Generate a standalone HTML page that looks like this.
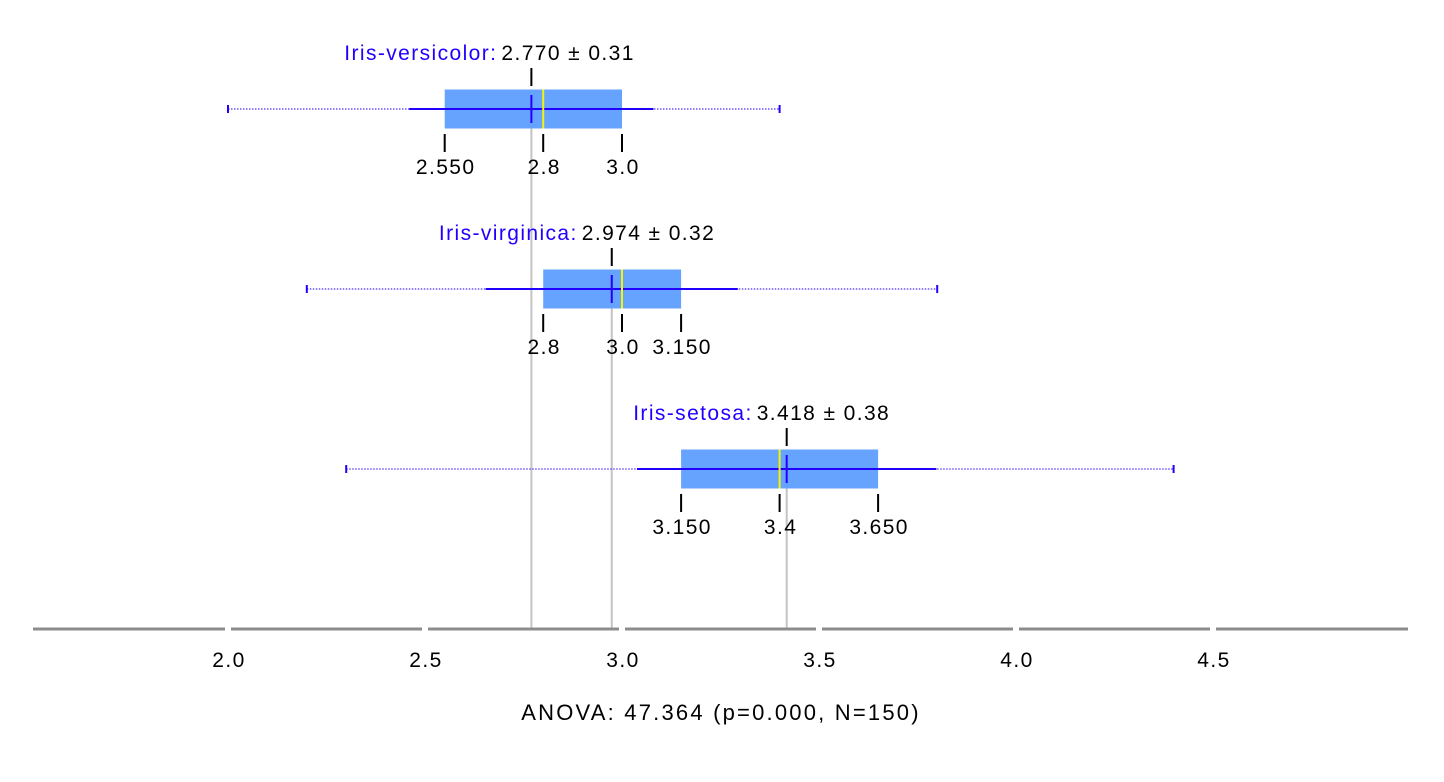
<!DOCTYPE html>
<html><head><meta charset="utf-8"><style>
html,body{margin:0;padding:0;background:#fff;}
svg{display:block;font-family:"Liberation Sans",Arial,sans-serif;}
text{letter-spacing:1.4px;}
</style></head><body>
<svg id="chart" width="1444" height="782"></svg>
<script>
const groups = ["Iris-versicolor","Iris-virginica","Iris-setosa"];
const mins = [2.0, 2.2, 2.3];
const maxs = [3.4, 3.8, 4.4];
const q1s = [2.55, 2.8, 3.15];
const medians = [2.8, 3.0, 3.4];
const q3s = [3.0, 3.15, 3.65];
const means = [2.770, 2.974, 3.418];
const sds = [0.31, 0.32, 0.38];
const q1Labels = ["2.550","2.8","3.150"];
const medLabels = ["2.8","3.0","3.4"];
const q3Labels = ["3.0","3.150","3.650"];
const ticks = [2.0, 2.5, 3.0, 3.5, 4.0, 4.5];
const tickLabels = ["2.0","2.5","3.0","3.5","4.0","4.5"];
const title = "ANOVA: 47.364 (p=0.000, N=150)";

const NS = "http://www.w3.org/2000/svg";
const svg = document.getElementById("chart");
const x = v => 228 + (v - 2) * 394;
const rowY = i => 109 + i * 180;
const axisY = 629;
function el(tag, attrs, parent){
  const e = document.createElementNS(NS, tag);
  for (const k in attrs) e.setAttribute(k, attrs[k]);
  (parent || svg).appendChild(e);
  return e;
}
function txt(s, attrs, parent){ const t = el("text", attrs, parent); t.textContent = s; return t; }

groups.forEach((g, i) => {
  const l = el("line", {x1:x(means[i]), x2:x(means[i]), y1:rowY(i), y2:axisY, stroke:"#c4c4c4", "stroke-width":2});
  
  
});

groups.forEach((g, i) => {
  const y = rowY(i);
  const grp = el("g", {});
  
  
  const w = el("line", {x1:x(mins[i]), x2:x(maxs[i]), y1:y, y2:y, stroke:"#2200ff", "stroke-width":1, "stroke-dasharray":"1.5,1.5"}, grp);
  
  
  [mins[i], maxs[i]].forEach(v => {
    const c = el("line", {x1:x(v), x2:x(v), y1:y-4, y2:y+4, stroke:"#2200ff", "stroke-width":2}, grp);
    
    
  });
  const b = el("rect", {x:x(q1s[i]), y:y-19.5, width:x(q3s[i])-x(q1s[i]), height:39, fill:"#66a3ff"}, grp);
  
  
  const sd = el("line", {x1:x(means[i]-sds[i]), x2:x(means[i]+sds[i]), y1:y, y2:y, stroke:"#2200ff", "stroke-width":2}, grp);
  
  
  const md = el("line", {x1:x(medians[i]), x2:x(medians[i]), y1:y-19.5, y2:y+19.5, stroke:"#f5f500", "stroke-width":2}, grp);
  
  
  const mn = el("line", {x1:x(means[i]), x2:x(means[i]), y1:y-14, y2:y+14, stroke:"#2200ff", "stroke-width":2}, grp);
  
  
  const tt = el("line", {x1:x(means[i]), x2:x(means[i]), y1:y-41, y2:y-23, stroke:"#000", "stroke-width":2}, grp);
  
  
  const nm = txt(g + ":", {x:x(means[i])-34, y:y-49, "text-anchor":"end", "font-size":21, fill:"#2200ff"}, grp);
  
  
  const vl = txt(means[i].toFixed(3) + " ± " + sds[i].toFixed(2), {x:x(means[i])-30, y:y-49, "text-anchor":"start", "font-size":21, fill:"#000"}, grp);
  
  
  [[q1s[i], q1Labels[i]], [medians[i], medLabels[i]], [q3s[i], q3Labels[i]]].forEach(([v, s]) => {
    const t = el("line", {x1:x(v), x2:x(v), y1:y+25, y2:y+43, stroke:"#000", "stroke-width":2}, grp);
    
    
    const l = txt(s, {x:x(v)+1, y:y+65, "text-anchor":"middle", "font-size":21, fill:"#000"}, grp);
    
    
  });
});

const axis = el("g", {});


const stops = [33, ...ticks.map(x), 1408];
for (let k = 0; k < stops.length - 1; k++) {
  const a = k === 0 ? stops[k] : stops[k] + 3;
  const bb = k === stops.length - 2 ? stops[k+1] : stops[k+1] - 3;
  const seg = el("line", {x1:a, x2:bb, y1:axisY, y2:axisY, stroke:"#8c8c8c", "stroke-width":3}, axis);
  
  
}
ticks.forEach((v, k) => {
  const t = txt(tickLabels[k], {x:x(v)+1, y:667, "text-anchor":"middle", "font-size":21, fill:"#000"}, axis);
  
  
});
const tl = txt(title, {x:721, y:720, "text-anchor":"middle", "font-size":22, fill:"#000", style:"letter-spacing:2.2px"});


</script>
</body></html>
